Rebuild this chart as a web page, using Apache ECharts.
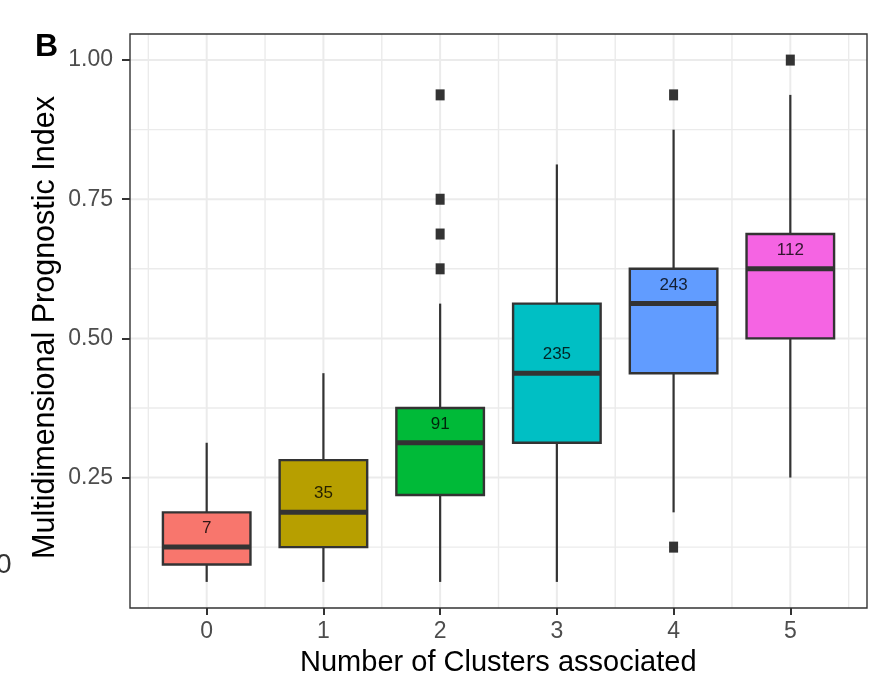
<!DOCTYPE html>
<html><head><meta charset="utf-8">
<script src="https://cdn.jsdelivr.net/npm/echarts@6/dist/echarts.min.js"></script>
<style>html,body{margin:0;padding:0;background:#fff}#c{width:874px;height:691px}</style>
</head><body><div id="c"></div>
<script>
// ---- data ----
const categories = [0, 1, 2, 3, 4, 5];
const counts = [7, 35, 91, 235, 243, 112];
const whiskerLow = [0.0625, 0.0625, 0.0625, 0.0625, 0.1875, 0.25];
const q1 = [0.09375, 0.125, 0.21875, 0.3125, 0.4375, 0.5];
const median = [0.125, 0.1875, 0.3125, 0.4375, 0.5625, 0.625];
const q3 = [0.1875, 0.28125, 0.375, 0.5625, 0.625, 0.6875];
const whiskerHigh = [0.3125, 0.4375, 0.5625, 0.8125, 0.875, 0.9375];
const outlierCategory = [2, 2, 2, 2, 4, 4, 5];
const outlierValue = [0.9375, 0.75, 0.6875, 0.625, 0.9375, 0.125, 1.0];
const fills = ['#F8766D', '#B79F00', '#00BA38', '#00BFC4', '#619CFF', '#F564E3'];
const yTickValues = [0.25, 0.5, 0.75, 1.0];
const yMinorValues = [0.125, 0.375, 0.625, 0.875];
const xMinorValues = [-0.5, 0.5, 1.5, 2.5, 3.5, 4.5, 5.5];
const xTitle = 'Number of Clusters associated';
const yTitle = 'Multidimensional Prognostic Index';

const FONT = '"Liberation Sans", Arial, Helvetica, sans-serif';

const boxData = categories.map((c, i) => [c, whiskerLow[i], q1[i], median[i], q3[i], whiskerHigh[i]]);
const outlierData = outlierCategory.map((c, i) => [c, outlierValue[i]]);
const labelData = categories.map((c, i) => ({ value: [c, median[i]], count: counts[i] }));

// gridline items: [orientation(0=h,1=v), value, major(1)/minor(0)]
const gridData = []
  .concat(yTickValues.map(v => [0, v, 1]))
  .concat(yMinorValues.map(v => [0, v, 0]))
  .concat(categories.map(v => [1, v, 1]))
  .concat(xMinorValues.map(v => [1, v, 0]));

const chart = echarts.init(document.getElementById('c'), null, { renderer: 'canvas' });
chart.setOption({
  animation: false,
  backgroundColor: '#fff',
  textStyle: { fontFamily: FONT },
  grid: { left: 130, right: 7, top: 34, bottom: 83, show: true, borderColor: '#333333', borderWidth: 1.4, backgroundColor: 'transparent', z: 10 },
  xAxis: {
    type: 'value', min: -0.657, max: 5.657,
    axisLine: { show: false, onZero: false },
    splitLine: { show: false },
    axisTick: { show: true, customValues: categories, length: 7, lineStyle: { color: '#333333', width: 2 } },
    axisLabel: { customValues: categories, color: '#4D4D4D', fontSize: 23, margin: 12, fontFamily: FONT, formatter: v => String(v) }
  },
  yAxis: {
    type: 'value', min: 0.015625, max: 1.046875,
    axisLine: { show: false, onZero: false },
    splitLine: { show: false },
    axisTick: { show: true, customValues: yTickValues, length: 8, lineStyle: { color: '#333333', width: 2 } },
    axisLabel: { customValues: yTickValues, color: '#4D4D4D', fontSize: 23, margin: 17, fontFamily: FONT, formatter: v => v.toFixed(2) }
  },
  graphic: [
    { type: 'text', left: 35, top: 31, style: { text: 'B', font: 'bold 32px ' + FONT, fill: '#000' } },
    { type: 'text', x: 498.3, y: 663, style: { text: xTitle, font: '29px ' + FONT, fill: '#000', textAlign: 'center', textVerticalAlign: 'middle' } },
    { type: 'text', x: 46, y: 327.5, rotation: Math.PI / 2, style: { text: yTitle, font: '30.5px ' + FONT, fill: '#000', textAlign: 'center', textVerticalAlign: 'middle' } },
    { type: 'text', x: -4, y: 565, style: { text: '0', font: '28px ' + FONT, fill: '#333', textAlign: 'left', textVerticalAlign: 'middle' } }
  ],
  series: [
    {
      type: 'custom', z: 1, silent: true, clip: true,
      data: gridData,
      renderItem(params, api) {
        const cs = params.coordSys;
        const o = api.value(0), v = api.value(1), major = api.value(2);
        const w = major ? 2 : 1.4;
        if (o === 0) {
          const y = api.coord([0, v])[1];
          return { type: 'line', shape: { x1: cs.x, y1: y, x2: cs.x + cs.width, y2: y }, style: { stroke: '#EBEBEB', lineWidth: w } };
        }
        const x = api.coord([v, 0.5])[0];
        return { type: 'line', shape: { x1: x, y1: cs.y, x2: x, y2: cs.y + cs.height }, style: { stroke: '#EBEBEB', lineWidth: w } };
      }
    },
    {
      type: 'custom', z: 3,
      data: boxData,
      renderItem(params, api) {
        const i = params.dataIndex;
        const x = api.value(0);
        const lo = api.coord([x, api.value(1)]);
        const b1 = api.coord([x, api.value(2)]);
        const md = api.coord([x, api.value(3)]);
        const b3 = api.coord([x, api.value(4)]);
        const hi = api.coord([x, api.value(5)]);
        const half = api.size([0.75, 0])[0] / 2;
        const c = lo[0];
        return {
          type: 'group', children: [
            { type: 'line', shape: { x1: c, y1: hi[1], x2: c, y2: b3[1] }, style: { stroke: '#333333', lineWidth: 2.2 } },
            { type: 'line', shape: { x1: c, y1: b1[1], x2: c, y2: lo[1] }, style: { stroke: '#333333', lineWidth: 2.2 } },
            { type: 'rect', shape: { x: c - half, y: b3[1], width: 2 * half, height: b1[1] - b3[1] }, style: { fill: fills[i], stroke: '#333333', lineWidth: 2.4 } },
            { type: 'line', shape: { x1: c - half, y1: md[1], x2: c + half, y2: md[1] }, style: { stroke: '#333333', lineWidth: 5 } }
          ]
        };
      }
    },
    {
      type: 'scatter', z: 4, silent: true,
      data: outlierData,
      symbol: 'rect', symbolSize: [9, 11],
      itemStyle: { color: '#333333', opacity: 1 }
    },
    {
      type: 'scatter', z: 5, silent: true,
      data: labelData,
      symbolSize: 0,
      label: {
        show: true, position: 'inside', offset: [0, -18.7],
        formatter: p => String(p.data.count),
        color: '#000', fontSize: 17, fontFamily: FONT
      }
    }
  ]
});
</script></body></html>
